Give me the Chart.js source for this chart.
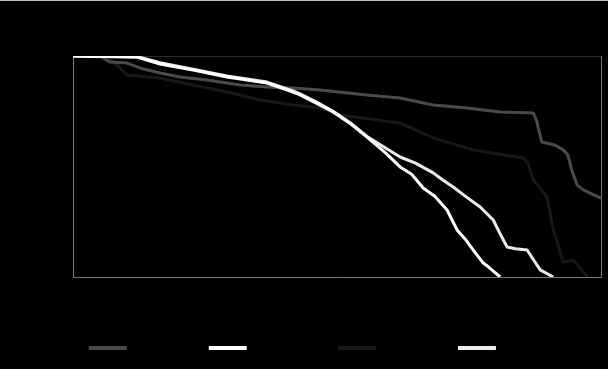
<!DOCTYPE html>
<html>
<head>
<meta charset="utf-8">
<script src="https://cdn.jsdelivr.net/npm/chart.js@4"></script>
<style>
  html, body { margin: 0; padding: 0; background: #000; }
  #edge { position: absolute; left: 0; top: 0; width: 608px; height: 1px; background: #bdbdbd; }
  #wrap { position: absolute; left: 3px; top: 3px; width: 605px; height: 366px; background: #000; }
</style>
</head>
<body>
<div id="edge"></div>
<div id="wrap"><canvas id="survivalChart" width="605" height="366"></canvas></div>
<script>
// months since start, survival %
const seriesNames = ['Cohort 2010', 'Cohort 2011 b', 'Cohort 2012', 'All'];

const grayX = [0, 3.5, 4.8, 7.0, 8.7, 11.3, 13.9, 17.4, 21.7, 25.2, 28.6, 32.1, 38.2, 42.5, 46.8, 51.2, 55.5, 59.8, 60.2, 60.9, 62.6, 63.7, 64.3, 64.8, 65.5, 66.3, 67.4, 68.6];
const grayY = [100, 100, 97.3, 96.8, 94.6, 92.3, 90.5, 89.1, 86.9, 86.0, 85.5, 84.6, 82.4, 81.0, 77.8, 76.5, 74.7, 74.2, 71.0, 61.1, 59.7, 57.5, 55.2, 48.4, 41.6, 39.4, 37.6, 35.7];

const whiteAX = [0, 8.3, 11.3, 15.6, 20.0, 25.2, 28.6, 29.5, 32.1, 33.8, 36.0, 38.2, 40.5, 42.5, 44.0, 45.5, 47.0, 48.6, 49.9, 51.0, 52.0, 53.3, 54.0, 55.5];
const whiteAY = [100, 99.5, 96.4, 93.6, 90.5, 87.8, 83.7, 82.4, 77.8, 74.7, 69.5, 63.3, 56.5, 49.8, 46.5, 40.3, 36.5, 30.3, 21.3, 17.0, 12.2, 6.3, 4.5, 0];

const blackX = [0, 4.8, 6.1, 7.0, 11.3, 15.6, 20.0, 24.3, 28.6, 32.1, 34.7, 42.5, 46.8, 52.0, 58.5, 59.1, 59.8, 61.6, 62.4, 63.7, 65.0, 66.9];
const blackY = [100, 99.1, 94.6, 91.4, 90.0, 86.9, 83.7, 80.1, 77.8, 76.5, 73.3, 69.7, 62.9, 57.5, 53.8, 51.6, 43.9, 36.2, 21.3, 6.8, 7.7, 0];

const whiteBX = [0, 8.5, 11.3, 15.6, 20.0, 25.2, 28.6, 29.5, 32.1, 33.8, 36.0, 38.2, 42.5, 44.5, 46.8, 48.0, 49.4, 51.0, 52.9, 54.6, 55.5, 56.4, 57.5, 59.0, 59.7, 60.7, 62.4];
const whiteBY = [100, 99.6, 97.0, 94.0, 91.0, 88.2, 84.2, 82.9, 78.3, 75.0, 69.8, 63.6, 54.3, 51.5, 47.1, 44.0, 40.7, 36.5, 31.7, 25.8, 19.5, 13.6, 12.8, 12.2, 8.5, 3.2, 0];

function pts(xs, ys) {
    return xs.map(function (x, i) { return { x: x, y: ys[i] }; });
}

const ctx = document.getElementById('survivalChart');
new Chart(ctx, {
    type: 'line',
    data: {
        datasets: [
            { label: seriesNames[0], data: pts(grayX, grayY), borderColor: '#4a4a4a', backgroundColor: '#4a4a4a', order: 3 },
            { label: seriesNames[1], data: pts(whiteAX, whiteAY), borderColor: '#ffffff', backgroundColor: '#ffffff', order: 1 },
            { label: seriesNames[2], data: pts(blackX, blackY), borderColor: '#171717', backgroundColor: '#171717', order: 4 },
            { label: seriesNames[3], data: pts(whiteBX, whiteBY), borderColor: '#ececec', backgroundColor: '#ececec', order: 2 }
        ]
    },
    options: {
        responsive: false,
        animation: false,
        elements: {
            line: { borderWidth: 3, tension: 0, borderJoinStyle: 'round' },
            point: { radius: 0 }
        },
        layout: { padding: { top: 53, right: 7, bottom: 5, left: 0 } },
        plugins: {
            tooltip: { enabled: false },
            legend: {
                position: 'bottom',
                labels: {
                    color: '#000',
                    boxWidth: 38,
                    boxHeight: 4,
                    font: { size: 12, family: 'Liberation Sans' },
                    sort: function (a, b) { return a.datasetIndex - b.datasetIndex; },
                    generateLabels: function (chart) {
                        return Chart.defaults.plugins.legend.labels.generateLabels(chart).map(function (l) {
                            l.lineWidth = 0;
                            return l;
                        });
                    }
                }
            }
        },
        scales: {
            x: {
                type: 'linear',
                min: 0,
                max: 68.6,
                grid: { display: false },
                border: { color: '#777', width: 1 },
                ticks: { stepSize: 10, includeBounds: false, color: '#000', font: { family: 'Liberation Sans' } },
                title: { display: true, text: 'Months', color: '#000' },
                afterFit: function (scale) { scale.height = 55; }
            },
            x2: {
                type: 'linear',
                position: 'top',
                min: 0,
                max: 68.6,
                grid: { display: false },
                border: { color: '#2e2e2e', width: 1 },
                ticks: { display: false },
                afterFit: function (scale) { scale.height = 0; }
            },
            y: {
                min: 0,
                max: 100,
                grid: { display: false },
                border: { color: '#777', width: 1 },
                ticks: { stepSize: 20, color: '#000', font: { family: 'Liberation Sans' } },
                title: { display: true, text: 'Survival (%)', color: '#000' },
                afterFit: function (scale) { scale.width = 70; }
            },
            y2: {
                position: 'right',
                min: 0,
                max: 100,
                grid: { display: false },
                border: { color: '#777', width: 1 },
                ticks: { display: false },
                afterFit: function (scale) { scale.width = 0; }
            }
        }
    }
});
</script>
</body>
</html>
